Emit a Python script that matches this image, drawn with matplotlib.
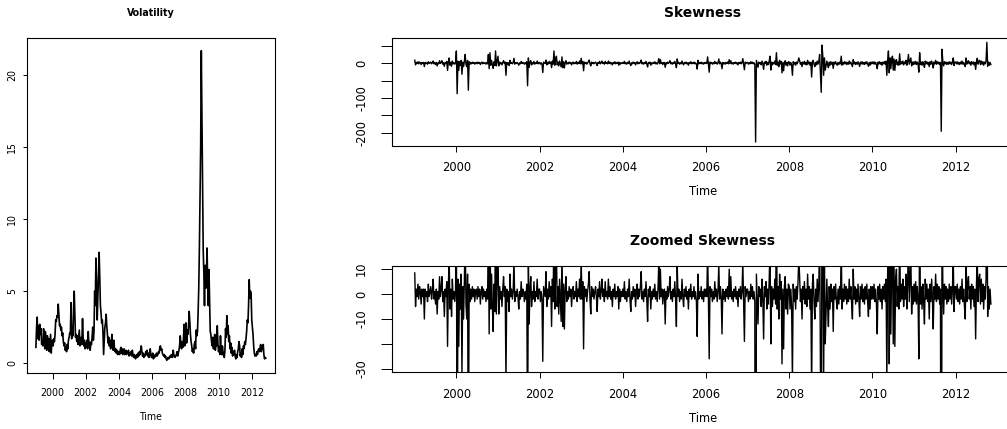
import numpy as np
import matplotlib
matplotlib.use('Agg')
import matplotlib.pyplot as plt
from matplotlib import font_manager as fm

# ---------------- data: volatility, biweekly (26 obs per year) ----------------
vol_freq = 26
vol_1999 = [1.1, 2.4, 3.2, 1.7, 2.6, 1.6, 2.7, 2.0, 2.4, 1.3, 1.5, 1.2, 2.4, 1.8, 1.0, 2.2, 1.6, 0.9, 1.9, 1.3, 1.7, 0.8, 1.4, 2.0, 0.7, 1.5]
vol_2000 = [1.6, 1.2, 1.7, 1.5, 2.0, 3.0, 2.9, 3.3, 3.2, 4.1, 3.4, 2.6, 2.7, 2.3, 2.5, 1.9, 2.1, 1.5, 1.2, 1.4, 0.9, 1.1, 0.8, 1.3, 1.0, 1.6]
vol_2001 = [1.8, 2.1, 2.0, 4.2, 1.7, 2.3, 1.9, 3.8, 5.0, 3.3, 1.8, 2.0, 1.5, 1.9, 1.3, 1.8, 2.3, 1.2, 1.5, 1.8, 1.3, 3.1, 1.7, 1.2, 1.6, 1.0]
vol_2002 = [1.4, 1.1, 1.6, 1.0, 2.2, 1.2, 1.5, 0.9, 1.4, 1.3, 1.8, 2.5, 1.6, 2.2, 5.0, 4.0, 7.3, 5.5, 3.0, 4.5, 5.8, 7.7, 6.0, 4.0, 3.5, 2.8]
vol_2003 = [3.0, 2.2, 0.6, 1.5, 2.5, 2.8, 3.4, 2.6, 2.0, 1.4, 1.8, 1.2, 1.6, 1.0, 1.3, 2.0, 1.2, 0.9, 1.6, 1.1, 0.8, 1.0, 0.7, 0.9, 0.6, 0.8]
vol_2004 = [0.8, 0.6, 0.9, 1.1, 0.7, 1.0, 0.6, 0.8, 1.0, 0.6, 0.7, 0.9, 0.6, 0.8, 0.7, 0.9, 0.5, 0.7, 0.6, 0.8, 0.5, 0.9, 0.6, 0.4, 0.6, 0.5]
vol_2005 = [0.3, 0.5, 0.6, 0.4, 0.7, 0.5, 0.8, 0.6, 0.9, 1.2, 0.8, 0.5, 0.7, 0.4, 0.6, 0.5, 0.8, 0.6, 0.9, 0.5, 0.7, 0.4, 0.6, 1.0, 0.6, 0.4]
vol_2006 = [0.5, 0.7, 0.3, 0.5, 0.4, 0.6, 0.5, 0.7, 0.5, 0.6, 0.8, 0.7, 1.1, 1.2, 0.9, 1.0, 0.7, 0.6, 0.5, 0.6, 0.4, 0.5, 0.3, 0.2, 0.3, 0.4]
vol_2007 = [0.3, 0.4, 0.5, 0.4, 0.6, 0.5, 0.4, 0.9, 0.6, 0.5, 0.4, 0.5, 0.6, 0.8, 0.5, 0.7, 0.9, 1.2, 1.9, 1.4, 1.0, 1.5, 1.1, 1.6, 2.7, 1.2]
vol_2008 = [1.8, 2.8, 1.4, 2.3, 2.0, 2.6, 3.6, 2.9, 2.0, 1.5, 1.2, 0.8, 1.0, 0.7, 1.3, 1.5, 1.0, 2.3, 1.9, 2.2, 3.5, 5.2, 8.0, 11.8, 15.0, 21.7]
vol_2009 = [17.0, 12.0, 7.8, 6.3, 4.0, 6.8, 5.2, 6.0, 8.0, 5.5, 4.0, 6.5, 4.2, 2.2, 2.0, 1.5, 1.2, 1.8, 1.0, 1.3, 2.0, 0.9, 1.4, 1.2, 2.6, 1.4]
vol_2010 = [0.8, 1.1, 0.6, 1.9, 1.0, 0.6, 1.2, 0.8, 0.5, 0.4, 0.9, 2.4, 1.8, 3.3, 2.0, 2.6, 1.5, 1.9, 1.0, 1.4, 0.7, 1.1, 0.5, 0.8, 0.6, 0.9]
vol_2011 = [0.5, 0.3, 0.6, 0.4, 0.8, 1.0, 1.5, 1.2, 0.5, 0.7, 0.4, 1.0, 0.6, 1.2, 1.0, 1.5, 1.3, 1.7, 2.2, 3.0, 2.8, 4.0, 5.8, 4.5, 5.0, 4.8]
vol_2012 = [3.0, 2.5, 2.0, 1.2, 0.7, 0.5, 0.6, 0.5, 0.8, 0.6, 0.9, 1.0, 0.8, 1.1, 1.3, 0.8, 1.2, 1.0, 1.3, 0.6, 0.3, 0.4, 0.35]

# ---------------- data: skewness, weekly (52 obs per year) ----------------
skew_freq = 52
skew_1999 = [8.5, -5, 2, -1, 4, -2, 3, 1, -4, 2, -1, 2, -10, 2, -1, 1, -3, 4, -1, 1, 3, -2, 1, 6, -2, 1, -4, 2, -8, 1, -2, 7, -1, 2, 7, -3, 1, -9, 2, -1, 5, -21, 3, 15, -6, 2, -9, 6, -2, 1, -3, 2]
skew_2000 = [35, -88, 6, -21, 4, -6, 8, -32, 3, -10, 5, 25, -4, -10, 8, -78, 4, -3, 2, -2, 3, -1, 2, -3, 1, 2, -2, 3, -1, 2, -4, 1, 3, -2, 2, -1, 1, -3, 2, -2, 25, -16, 30, -6, 8, -5, -15, 4, -7, 35, -8, 6]
skew_2001 = [20, -8, 3, -2, 1, -5, 2, 7, -1, 3, -35, 2, -3, 1, -7, 8, -1, 2, -2, 1, 14, -3, 1, -1, 2, -1, -6, 1, -2, 5, -1, 2, 1, -3, 1, -2, 4, -65, 15, -12, 2, 7, -5, 1, -2, 5, -3, 1, -1, 6, -2, 2]
skew_2002 = [2, -3, 1, -2, -27, 3, 1, -1, 9, -5, 2, -2, 5, -1, 3, -13, 6, -3, 35, -6, 8, 20, -5, 3, -8, 6, -2, -11, 18, -13, 4, -14, 2, 7, -3, 1, -2, 3, -1, 2, -5, 1, 3, -2, 1, -1, 5, -3, 2, -1, 6, -2]
skew_2003 = [14, -2, 5, -22, 3, -1, 2, -3, 1, 4, 9, -2, -8, 3, -1, 2, -2, 1, 3, -1, -7, 2, -1, 5, -2, 1, 6, -1, 2, -3, 5, -1, 1, -2, 6, -1, 3, -2, 1, -5, 2, -1, 4, -2, 1, -1, 3, -6, 2, -3, 1, -1]
skew_2004 = [2, -1, 5, -2, 1, -3, 2, -1, 6, -2, -7, 1, -2, 3, -1, 2, -5, 1, 4, -2, 2, -1, 3, 9, -2, 1, -3, 2, -1, 5, -2, -11, 2, -1, 3, -6, 1, -2, 2, -1, 4, -2, 1, -3, 2, 13, -2, 10, -1, 2, -4, 1]
skew_2005 = [2, -12, 1, -2, 3, -1, 2, 7, -2, 1, -3, 2, -1, 5, -2, -13, 12, -1, 2, -3, 1, -2, 6, -1, -5, 2, -1, 3, -2, 1, -6, 2, -1, 4, -2, 1, -1, 3, -2, 1, -3, -17, 8, -2, 1, -1, 3, -2, 1, -3, 2, -1]
skew_2006 = [2, -1, 18, -2, -26, 3, -1, 2, -3, 1, -2, 5, -1, 2, -3, 1, 12, -2, 3, -1, -16, 2, -2, 1, -3, 2, -1, 3, -2, 10, -1, 7, -2, 1, -3, 2, -1, 3, -2, 1, -5, 2, -1, 3, -2, 1, 13, -2, -19, 3, -1, 2]
skew_2007 = [2, -3, 1, -2, 4, -1, 3, -2, 1, -3, -227, 8, -2, -12, 3, -1, 2, -5, 6, -2, -18, 3, -1, 5, -6, 2, -4, 6, 20, -20, 3, -5, 2, -2, 6, -4, 30, -6, 3, -10, 8, -2, 5, -28, 2, -22, 3, 7, -6, 2, -8, 4]
skew_2008 = [3, -6, 2, -5, -35, 4, -3, 2, -6, 3, -2, 5, 15, 7, -3, 2, -10, 3, -2, 5, -4, 2, -5, 8, -2, 3, -6, 2, -40, 4, 8, -3, -10, 2, -5, 6, -3, 4, 25, -30, -84, 52, 20, -35, 15, -20, -8, 6, -5, -13, 3, -6]
skew_2009 = [4, -3, 2, -15, 3, -2, 4, -3, -6, 2, -4, 3, -2, 20, -6, 2, -3, 4, -2, 3, -4, 2, -3, 6, -2, 3, -4, -10, 10, -2, 3, -4, 2, -3, 4, -2, -9, 3, -2, 4, -3, 2, -4, 3, -2, 4, -3, -9, 2, -6, 3, -2]
skew_2010 = [3, -2, 4, -3, 2, -4, -16, 3, -2, 4, -3, 2, -6, 3, -2, 4, -3, 6, -35, 8, 35, -28, 15, -16, 10, 20, -20, 12, -21, 6, 10, -5, 3, -6, 27, -3, 4, -2, 6, -5, 3, -2, 8, -6, 4, 25, -3, 6, 15, -8, 3, -4]
skew_2011 = [4, -3, 5, -4, 3, -2, -26, 30, -4, 3, -6, 4, -3, -12, 6, -2, 4, -3, 2, -10, 4, -3, 6, -2, -14, 3, -2, 8, -3, 4, -2, 3, -4, 2, -196, 40, 3, -8, 4, -2, 3, -4, 2, -3, 4, -2, 3, -4, 2, 15, -7, 3]
skew_2012 = [3, -2, 4, -3, 2, -4, 3, -2, 6, -3, 2, -5, -10, 15, -3, 4, 7, -2, 3, -6, 4, -2, 3, -5, 2, -18, 4, 14, -3, 6, 8, -4, 6, -3, 4, -6, 3, -2, 6, 60, -9, 3, -6, 2, -4]

years = list(range(1999, 2013))
year_ticks = [2000, 2002, 2004, 2006, 2008, 2010, 2012]
vol_yticks = [0, 5, 10, 15, 20]
skew_yticks = [-200, -150, -100, -50, 0, 50]
skew_ylabels = ['-200', '', '-100', '', '0', '']
zoom_yticks = [-30, -20, -10, 0, 10]
zoom_ylabels = ['-30', '', '-10', '0', '10']
zoom_ylim = (-31.4, 11.4)

vol_lists = [vol_1999, vol_2000, vol_2001, vol_2002, vol_2003, vol_2004, vol_2005,
             vol_2006, vol_2007, vol_2008, vol_2009, vol_2010, vol_2011, vol_2012]
skew_lists = [skew_1999, skew_2000, skew_2001, skew_2002, skew_2003, skew_2004, skew_2005,
              skew_2006, skew_2007, skew_2008, skew_2009, skew_2010, skew_2011, skew_2012]

vol_t = np.concatenate([y + np.arange(len(v)) / vol_freq for y, v in zip(years, vol_lists)])
vol = np.concatenate([np.asarray(v, float) for v in vol_lists])
skew_t = np.concatenate([y + np.arange(len(v)) / skew_freq for y, v in zip(years, skew_lists)])
skew = np.concatenate([np.asarray(v, float) for v in skew_lists])


def rlim(a):
    lo, hi = float(np.min(a)), float(np.max(a))
    d = 0.04 * (hi - lo)
    return lo - d, hi + d

# ---------------- fonts ----------------
avail = {f.name for f in fm.fontManager.ttflist}
narrow_family = 'Liberation Sans Narrow' if 'Liberation Sans Narrow' in avail else 'DejaVu Sans'
narrow_kw = dict(family=narrow_family, stretch='condensed')
wide_family = 'DejaVu Sans'

W, H = 1007, 429
fig = plt.figure(figsize=(W / 100, H / 100), dpi=100)
fig.patch.set_facecolor('white')


def frac(l, t, r, b):
    return [l / W, (H - b) / H, (r - l) / W, (b - t) / H]

# ---------------- left: volatility ----------------
ax1 = fig.add_axes(frac(26.7, 38.3, 275, 372.7))
ax1.plot(vol_t, vol, color='black', lw=1.2)
ax1.set_xlim(rlim(vol_t))
ax1.set_ylim(rlim(vol))
ax1.set_xticks(year_ticks)
ax1.set_xticklabels([str(y) for y in year_ticks], fontsize=7.6, **narrow_kw)
ax1.set_yticks(vol_yticks)
ax1.set_yticklabels([str(v) for v in vol_yticks], fontsize=7.6, rotation=90,
                    va='center', **narrow_kw)
ax1.tick_params(axis='x', length=4.1, width=0.7, pad=7.0)
ax1.tick_params(axis='y', length=2.9, width=0.7, pad=4.0)
ax1.set_title('Volatility', fontsize=7.6, fontweight='bold', pad=16, **narrow_kw)
ax1.set_xlabel('Time', fontsize=7.6, **narrow_kw)
ax1.xaxis.label.set_va('center')
ax1.xaxis.set_label_coords(0.5, (372.7 - 417) / (372.7 - 38.3))
for s in ax1.spines.values():
    s.set_linewidth(0.8)

# ---------------- right top: skewness ----------------
R_L, R_R = 391.7, 1013.9
ax2 = fig.add_axes(frac(R_L, 38.3, R_R, 146))
ax2.plot(skew_t, skew, color='black', lw=1.0)
ax2.set_xlim(rlim(skew_t))
ax2.set_ylim(rlim(skew))
ax2.set_xticks(year_ticks)
ax2.set_xticklabels([str(y) for y in year_ticks], fontsize=8.3, family=wide_family)
ax2.set_yticks(skew_yticks)
ax2.set_yticklabels(skew_ylabels, fontsize=8.3, rotation=90, va='center', family=wide_family)
ax2.tick_params(axis='x', length=4.1, width=0.7, pad=7.0)
ax2.tick_params(axis='y', length=7.9, width=0.7, pad=9.0)
ax2.set_title('Skewness', fontsize=10, fontweight='bold', pad=15, family=wide_family)
ax2.set_xlabel('Time', fontsize=8.3, family=wide_family)
ax2.xaxis.label.set_va('center')
ax2.xaxis.set_label_coords(0.5, (146 - 191.5) / (146 - 38.3))
for s in ax2.spines.values():
    s.set_linewidth(0.8)

# ---------------- right bottom: zoomed skewness ----------------
ax3 = fig.add_axes(frac(R_L, 265.7, R_R, 372.3))
ax3.plot(skew_t, skew, color='black', lw=1.0)
ax3.set_xlim(rlim(skew_t))
ax3.set_ylim(zoom_ylim)
ax3.set_xticks(year_ticks)
ax3.set_xticklabels([str(y) for y in year_ticks], fontsize=8.3, family=wide_family)
ax3.set_yticks(zoom_yticks)
ax3.set_yticklabels(zoom_ylabels, fontsize=8.3, rotation=90, va='center', family=wide_family)
ax3.tick_params(axis='x', length=4.1, width=0.7, pad=7.0)
ax3.tick_params(axis='y', length=7.9, width=0.7, pad=9.0)
ax3.set_title('Zoomed Skewness', fontsize=10, fontweight='bold', pad=15, family=wide_family)
ax3.set_xlabel('Time', fontsize=8.3, family=wide_family)
ax3.xaxis.label.set_va('center')
ax3.xaxis.set_label_coords(0.5, (372.3 - 418) / (372.3 - 265.7))
for s in ax3.spines.values():
    s.set_linewidth(0.8)

fig.savefig('out.png', dpi=100, facecolor='white')
